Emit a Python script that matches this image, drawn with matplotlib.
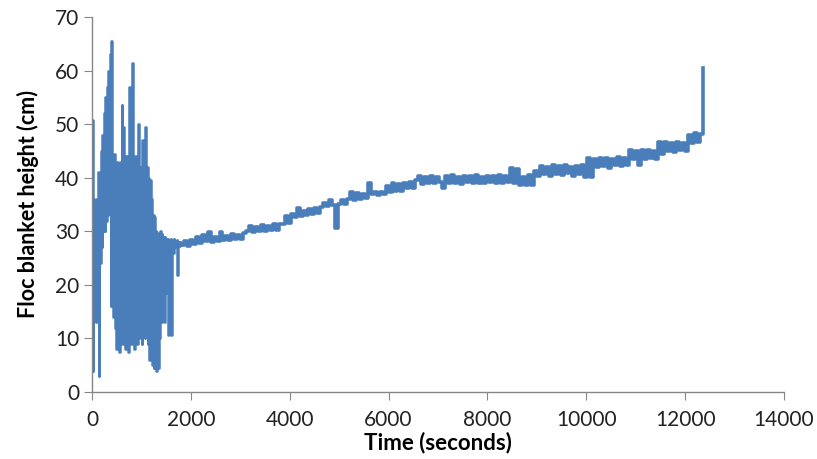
import numpy as np
import matplotlib
matplotlib.use("Agg")
from matplotlib import pyplot as plt

# start-up phase: sampled every 15 s, strong oscillation of the blanket
dt_start = 15
h_start = [
    50.8, 4, 36, 20, 34, 13, 36, 18, 41, 3,
    33, 24, 45, 27, 48, 30, 52, 30, 55, 32,
    57, 33, 60, 34, 63, 16, 65.5, 21, 42, 14,
    44.5, 12, 42, 8, 43, 11, 42.5, 7.5, 43, 12,
    53.5, 9, 49.5, 11, 44, 8, 44, 12, 43, 7.5,
    57, 11, 44, 9, 61.4, 13, 44, 8, 43, 12,
    44, 9, 50, 14, 41, 10, 42, 9, 47, 13,
    41, 10, 49.5, 12, 42, 9, 40, 6, 39.5, 8,
    36, 5, 33, 4.5, 32.7, 7, 30, 4, 29.7, 4.5,
    28, 10, 30, 13, 29.5, 21.5, 29, 13, 29, 18.5,
    28.5, 23, 28.5, 10.6, 28, 25, 28.5, 10.6, 28, 26,
    28.5, 27, 28, 27, 28.3, 21.8, 27.5, 28, 27.3, 28,
]

# settled phase: sampled every 60 s from 1800 s
t0_rise = 1800
dt_rise = 60
h_rise = [
    27.5, 28.2, 27.3, 28.4, 27.6,
    28.9, 27.9, 29.3, 28.1, 29.8, 28.0, 29.0, 28.2, 29.9, 28.3, 29.2, 28.4, 29.5, 28.6, 29.3, 28.5, 29.7,
    30.0, 31.0, 29.8, 30.8, 30.1, 31.2, 30.0, 31.0, 30.3, 31.3, 30.2, 31.4,
    31.4, 32.8, 31.6,
    33.2, 32.6, 34.3, 32.9,
    33.8, 33.1, 34.2, 33.2, 34.3, 33.4, 34.5,
    35.2, 34.8, 35.8, 34.9, 30.6, 35.0, 35.9, 35.1,
    36.0, 37.3, 35.9, 37.2, 36.1, 37.0, 36.2, 39.0,
    36.9, 37.4, 36.8, 37.3, 36.9,
    38.5, 37.4, 39.0, 37.6, 38.8, 37.5, 39.0, 38.0, 39.2, 38.1,
    39.5, 40.3, 38.9, 40.2, 39.0, 40.4, 39.1, 40.1, 39.2, 38.0,
    40.3, 39.0, 40.5, 39.1, 40.2, 38.9, 40.4, 39.2, 40.3, 39.0,
    40.5, 39.1, 40.2, 39.0, 40.4, 39.2, 40.3, 39.1, 40.5, 39.0,
    40.4, 39.2, 41.8, 39.0, 41.6, 38.6, 40.2, 38.6, 40.5, 38.7,
    41.2, 40.3, 42.2, 40.6, 42.0, 40.4, 42.3, 40.7, 42.1, 40.5, 42.4, 40.8, 42.0, 40.4, 42.2, 40.6, 42.3, 40.2,
    43.7, 40.2, 43.5,
    42.0, 43.6, 42.2, 43.7, 41.9, 43.5, 42.3, 43.8, 42.1, 43.6, 42.4,
    45.2, 43.4, 45.0, 42.4, 45.1, 43.5, 45.2, 43.6, 44.9, 43.4,
    46.7, 44.5,
    46.6, 45.0, 46.5, 44.8, 46.7, 45.2, 46.4, 45.0,
    48.0, 46.5, 48.3, 46.6, 48.2,
    60.5,
]

x_ticks = [0, 2000, 4000, 6000, 8000, 10000, 12000, 14000]
y_ticks = [0, 10, 20, 30, 40, 50, 60, 70]

t_start = dt_start * np.arange(len(h_start))
t_rise = t0_rise + dt_rise * np.arange(len(h_rise))

plt.rcParams['font.family'] = ['Lato', 'DejaVu Sans']
fig = plt.figure(figsize=(8.17, 4.59), dpi=100)
ax = fig.add_axes([0.1126, 0.146, 0.847, 0.817])

blue = '#4A7EBB'
# first phase joined to the first sample of the second one
ax.plot(np.append(t_start, t_rise[0]), np.append(h_start, h_rise[0]),
        color=blue, lw=1.8, drawstyle='steps-post')
ax.plot(t_rise, h_rise, color=blue, lw=2.6, drawstyle='steps-post')

ax.set_xlim(0, 14000)
ax.set_ylim(0, 70)
ax.set_xticks(x_ticks)
ax.set_yticks(y_ticks)
for s in ['top', 'right']:
    ax.spines[s].set_visible(False)
for s in ['left', 'bottom']:
    ax.spines[s].set_color('#868686')
    ax.spines[s].set_linewidth(1.0)
ax.tick_params(direction='out', length=6, color='#868686', labelsize=15,
               labelcolor='#222222')
ax.tick_params(axis='x', pad=7)
ax.tick_params(axis='y', pad=3)
ax.set_xlabel('Time (seconds)', fontsize=16, fontweight='bold', labelpad=1)
ax.set_ylabel('Floc blanket height (cm)', fontsize=15.5, fontweight='bold', labelpad=12)

fig.savefig('out.png', dpi=100)
